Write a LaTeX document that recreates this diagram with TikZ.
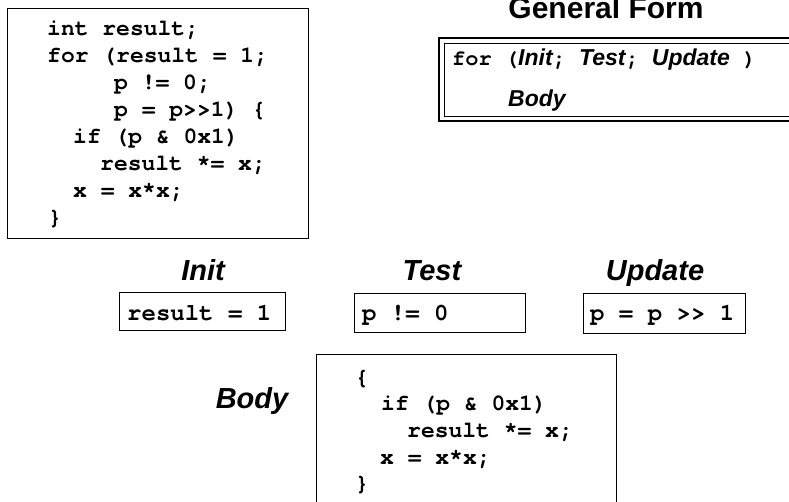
\documentclass[tikz,border=0pt]{standalone}
\usepackage{fontspec}
\setmainfont{Liberation Sans}
\newfontfamily\codefont{texgyrecursor}[Extension=.otf, UprightFont=*-regular, BoldFont=*-bold]
\newfontfamily\labfont{Liberation Sans}
\begin{document}
\begin{tikzpicture}[x=1pt,y=-1pt,
  codeL/.style={font=\codefont\bfseries\fontsize{23}{27}\selectfont, anchor=base west, inner sep=0pt},
  codeS/.style={font=\codefont\bfseries\fontsize{24}{28}\selectfont, anchor=base west, inner sep=0pt},
  lab/.style={font=\labfont\bfseries\itshape\fontsize{29}{34}\selectfont, anchor=base, inner sep=0pt},
  frame/.style={draw=black, line width=1pt},
]
\useasboundingbox (0,0) rectangle (789,501);
\begin{scope}
\clip (0,0) rectangle (789,501);
% left code box
\draw[frame] (7,8) rectangle (308,238);
\node[codeL] (l1) at (47,35) {int result;};
\node[codeL] (l2) at (47,62) {for (result = 1;};
\node[codeL] (l3) at (114,89) {p != 0;};
\node[codeL] (l4) at (114,116) {p = p>>1) \{};
\node[codeL] (l5) at (73,143) {if (p \& 0x1)};
\node[codeL] (l6) at (100,170) {result *= x;};
\node[codeL] (l7) at (73,197) {x = x*x;};
\node[codeL] (l8) at (48,224) {\}};

% general form
\node[font=\labfont\bfseries\fontsize{30}{34}\selectfont, anchor=base, inner sep=0pt] (gf) at (606,18) {General Form};
\draw[black, line width=2pt] (439,38) rectangle (820,121);
\draw[black, line width=0.9pt] (444,43) rectangle (815,116);
\node[anchor=base west, inner sep=0pt] (gf1) at (452,65)
  {\codefont\bfseries\fontsize{22}{26}\selectfont for (\labfont\itshape\fontsize{23}{26}\selectfont Init\codefont\upshape\fontsize{22}{26}\selectfont; \labfont\itshape\fontsize{23}{26}\selectfont Test\codefont\upshape\fontsize{22}{26}\selectfont; \labfont\itshape\fontsize{23}{26}\selectfont Update\codefont\upshape\fontsize{22}{26}\selectfont{} )};
\node[anchor=base west, inner sep=0pt, font=\labfont\bfseries\itshape\fontsize{23}{26}\selectfont] (gf2) at (508,106) {Body};

% labels
\node[lab] (init) at (203,280) {Init};
\node[lab] (test) at (432,280) {Test};
\node[lab] (upd) at (655,280) {Update};
\node[lab] (body) at (252,408) {Body};

% small boxes
\draw[frame] (119,292) rectangle (285,330);
\node[codeS] (ci) at (127,320) {result = 1};
\draw[frame] (354,293) rectangle (525,332);
\node[codeS] (ct) at (362,320) {p != 0};
\draw[frame] (583,293) rectangle (745,333);
\node[codeS] (cu) at (590,320) {p = p >> 1};

% body box
\draw[frame] (316,354) rectangle (616,520);
\node[codeL] (b1) at (355,384) {\{};
\node[codeL] (b2) at (381,410) {if (p \& 0x1)};
\node[codeL] (b3) at (407,437) {result *= x;};
\node[codeL] (b4) at (380,464) {x = x*x;};
\node[codeL] (b5) at (355,490) {\}};
\end{scope}
\end{tikzpicture}
\end{document}
